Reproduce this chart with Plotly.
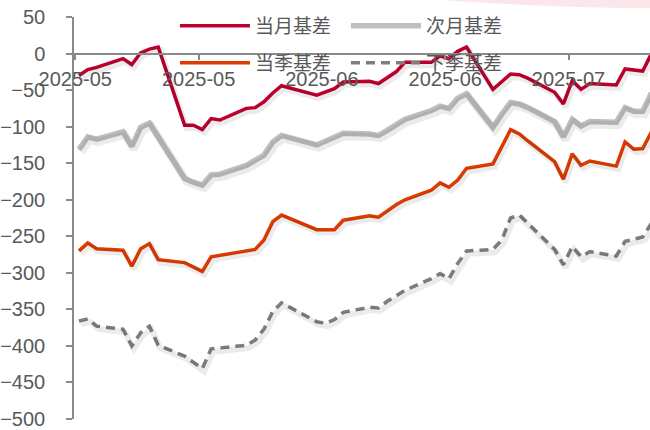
import plotly.graph_objects as go

dates = ["2025-05-07", "2025-05-08", "2025-05-09", "2025-05-12", "2025-05-13", "2025-05-14",
         "2025-05-15", "2025-05-16", "2025-05-19", "2025-05-20", "2025-05-21", "2025-05-22",
         "2025-05-23", "2025-05-26", "2025-05-27", "2025-05-28", "2025-05-29", "2025-05-30",
         "2025-06-03", "2025-06-04", "2025-06-05", "2025-06-06", "2025-06-09", "2025-06-10",
         "2025-06-11", "2025-06-12", "2025-06-13", "2025-06-16", "2025-06-17", "2025-06-18",
         "2025-06-19", "2025-06-20", "2025-06-23", "2025-06-24", "2025-06-25", "2025-06-26",
         "2025-06-27", "2025-06-30", "2025-07-01", "2025-07-02", "2025-07-03", "2025-07-04",
         "2025-07-07", "2025-07-08", "2025-07-09", "2025-07-10", "2025-07-11"]

cur_month = [-30, -22, -19, -7, -15, 1, 6, 9, -98, -98, -104, -89, -91, -75, -74, -66, -54, -44,
             -57, -52, -48, -39, -38, -41, -33, -25, -12, -12, -3, -7, 3, 9, -49, -38, -28, -29,
             -34, -53, -69, -37, -49, -41, -43, -21, -23, -24, 0]
next_month = [-131, -114, -117, -107, -127, -101, -95, -114, -171, -176, -180, -166, -165, -153,
              -147, -139, -121, -112, -125, -120, -116, -109, -110, -112, -105, -98, -90, -78,
              -72, -75, -61, -55, -101, -83, -67, -69, -74, -93, -114, -90, -99, -93, -94, -74,
              -79, -79, -54]
cur_quarter = [-270, -259, -267, -269, -291, -267, -260, -282, -286, -292, -298, -278, -276, -271,
               -268, -255, -230, -221, -241, -241, -241, -228, -222, -224, -215, -207, -200, -187,
               -177, -183, -173, -157, -151, -127, -104, -110, -120, -148, -172, -137, -153, -147,
               -154, -121, -131, -130, -107]
next_quarter = [-366, -363, -373, -377, -400, -382, -373, -399, -414, -422, -431, -404, -403, -399,
                -392, -377, -353, -341, -367, -369, -364, -354, -347, -348, -339, -331, -324, -308,
                -301, -308, -287, -270, -268, -255, -225, -221, -233, -268, -289, -264, -278, -271,
                -277, -257, -254, -251, -232]

names = ["当月基差", "次月基差", "当季基差", "下季基差"]
series = [cur_month, next_month, cur_quarter, next_quarter]
colors = ["#C0002F", "#BFBFBF", "#E03C02", "#7F7F7F"]
widths = [3.5, 5.5, 3.5, 3.5]
dashes = ["solid", "solid", "solid", "9px,6px"]
legends = ["legend", "legend", "legend2", "legend2"]

x_range = ["2025-05-06 10:30", "2025-07-10 20:00"]
x_range_shadow = ["2025-05-06 05:00", "2025-07-10 14:30"]

fig = go.Figure()

# soft shadows (same data drawn through a slightly offset overlay scale)
for vals, w in zip(series, widths):
    fig.add_trace(go.Scatter(x=dates, y=vals, mode="lines", xaxis="x2", yaxis="y2",
                             line=dict(color="rgba(0,0,0,0.08)", width=w + 2.5),
                             showlegend=False, hoverinfo="skip"))

for name, vals, c, w, d, lg in zip(names, series, colors, widths, dashes, legends):
    fig.add_trace(go.Scatter(x=dates, y=vals, mode="lines", name=name,
                             line=dict(color=c, width=w, dash=d), legend=lg))

tick_font = dict(family="Liberation Sans, Arial, sans-serif", size=20, color="#595959")
leg_font = dict(family="Noto Sans CJK SC, sans-serif", size=19, color="#595959")

fig.update_layout(
    width=650, height=430,
    margin=dict(l=68, r=0, t=17, b=10),
    paper_bgcolor="white", plot_bgcolor="white",
    xaxis=dict(type="date", range=x_range, anchor="free", position=500 / 550,
               showline=True, linecolor="#8A8A8A", linewidth=1.5,
               ticks="outside", ticklen=6, tickwidth=1.5, tickcolor="#8A8A8A",
               tick0="2025-05-06 14:00", dtick=14 * 86400000, tickformat="%Y-%m",
               tickfont=tick_font, ticklabelstandoff=2, ticklabeloverflow="allow",
               showgrid=False, zeroline=False),
    yaxis=dict(range=[-500, 50], dtick=50, showline=True, linecolor="#8A8A8A", linewidth=1.5,
               ticks="outside", ticklen=6, tickwidth=1.5, tickcolor="#8A8A8A",
               tickfont=tick_font, ticklabelstandoff=17, ticklabeloverflow="allow",
               showgrid=False, zeroline=False),
    xaxis2=dict(type="date", range=x_range_shadow, overlaying="x", visible=False),
    yaxis2=dict(range=[-496, 54], overlaying="y", visible=False),
    legend=dict(orientation="h", x=(170 - 68) / 582, y=(420 - 26) / 403,
                xanchor="left", yanchor="middle", bgcolor="rgba(0,0,0,0)",
                font=leg_font, itemwidth=70, entrywidth=86, entrywidthmode="pixels",
                traceorder="normal"),
    legend2=dict(orientation="h", x=(170 - 68) / 582, y=(420 - 63) / 403,
                 xanchor="left", yanchor="middle", bgcolor="rgba(0,0,0,0)",
                 font=leg_font, itemwidth=70, entrywidth=86, entrywidthmode="pixels",
                 traceorder="normal"),
    shapes=[dict(type="path", xref="paper", yref="paper", layer="above",
                 path="M {a},{t} Q {b},{m} {c},{e} L {c},{t2} L {a},{t2} Z".format(
                     a=(440 - 68) / 582, b=(570 - 68) / 582, c=(660 - 68) / 582,
                     t=(420 - 0) / 403, m=(420 - 9) / 403, e=(420 - 8) / 403,
                     t2=(420 + 5) / 403),
                 fillcolor="rgba(246,200,208,0.45)", line=dict(width=0))],
    hovermode=False,
)

fig.write_html("out.html")
